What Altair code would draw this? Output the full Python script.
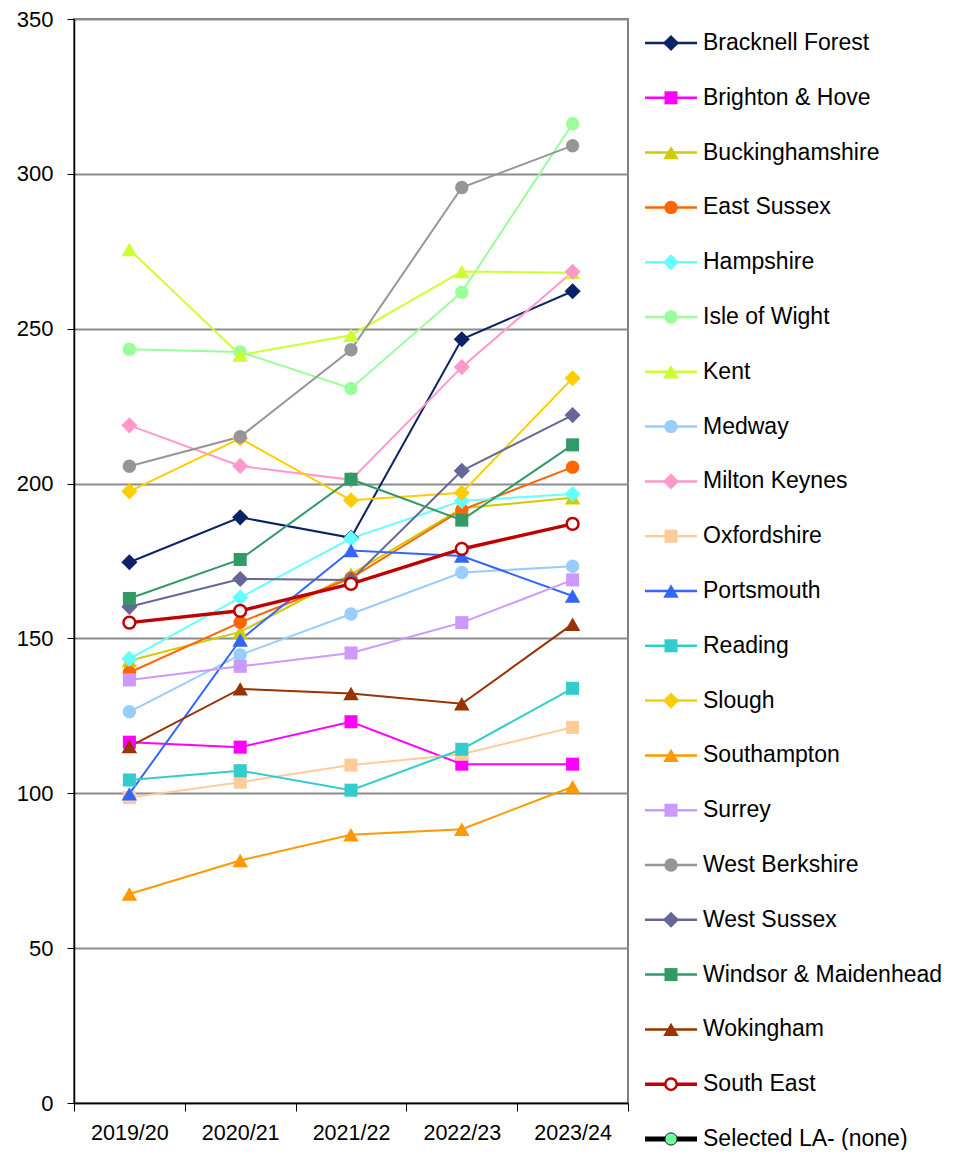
import altair as alt
import pandas as pd

years = ["2019/20", "2020/21", "2021/22", "2022/23", "2023/24"]

names = [
    "Bracknell Forest", "Brighton & Hove", "Buckinghamshire", "East Sussex",
    "Hampshire", "Isle of Wight", "Kent", "Medway", "Milton Keynes",
    "Oxfordshire", "Portsmouth", "Reading", "Slough", "Southampton",
    "Surrey", "West Berkshire", "West Sussex", "Windsor & Maidenhead",
    "Wokingham",
]
colors = [
    "#0B2366", "#FF00FF", "#CCCC00", "#FF6600",
    "#66FFFF", "#99FF99", "#CCFF33", "#99CCFF", "#FF99CC",
    "#FFCC99", "#3366FF", "#33CCCC", "#FFCC00", "#FF9900",
    "#CC99FF", "#969696", "#666699", "#339966",
    "#993300",
]
shapes = [
    "diamond", "square", "triangle-up", "circle",
    "diamond", "circle", "triangle-up", "circle", "diamond",
    "square", "triangle-up", "square", "diamond", "triangle-up",
    "square", "circle", "diamond", "square",
    "triangle-up",
]

bracknell_forest = [174.6, 189.1, 182.5, 246.6, 262.1]
brighton_hove = [116.5, 114.9, 123.1, 109.4, 109.4]
buckinghamshire = [142.8, 152.1, 170.7, 192.0, 195.4]
east_sussex = [139.0, 155.2, 169.5, 191.5, 205.3]
hampshire = [143.4, 163.2, 182.3, 194.4, 196.6]
isle_of_wight = [243.4, 242.5, 230.7, 261.8, 316.2]
kent = [275.6, 241.5, 247.9, 268.5, 268.1]
medway = [126.3, 144.7, 157.9, 171.3, 173.3]
milton_keynes = [218.8, 205.7, 201.2, 237.6, 268.4]
oxfordshire = [98.6, 103.6, 109.1, 112.6, 121.3]
portsmouth = [99.8, 149.5, 178.4, 176.6, 163.7]
reading = [104.3, 107.3, 101.0, 114.2, 133.9]
slough = [197.5, 214.6, 194.6, 197.0, 234.0]
southampton = [67.5, 78.3, 86.6, 88.4, 102.1]
surrey = [136.6, 141.0, 145.3, 155.1, 168.9]
west_berkshire = [205.6, 215.1, 243.2, 295.6, 309.1]
west_sussex = [160.2, 169.2, 168.9, 204.1, 222.1]
windsor_maidenhead = [162.9, 175.5, 201.4, 188.2, 212.5]
wokingham = [115.1, 133.7, 132.2, 128.9, 154.6]
south_east = [155.1, 158.9, 167.6, 178.9, 187.0]

series = [
    bracknell_forest, brighton_hove, buckinghamshire, east_sussex, hampshire,
    isle_of_wight, kent, medway, milton_keynes, oxfordshire, portsmouth,
    reading, slough, southampton, surrey, west_berkshire, west_sussex,
    windsor_maidenhead, wokingham,
]

se_name = "South East"
sel_name = "Selected LA- (none)"
legend_names = names + [se_name, sel_name]

# marker area per symbol type (style)
marker_size = {"diamond": 260, "square": 170, "triangle-up": 240, "circle": 180}

rows = []
for i, (n, vals, s) in enumerate(zip(names, series, shapes)):
    for y, v in zip(years, vals):
        rows.append({"name": n, "year": y, "value": v, "ord": i,
                     "msize": marker_size[s]})
df = pd.DataFrame(rows)
se_df = pd.DataFrame({"name": se_name, "year": years, "value": south_east})

FONT = "Arial, Liberation Sans"

color_scale = alt.Scale(domain=names + [se_name, sel_name],
                        range=colors + ["#C00000", "#000000"])
shape_scale = alt.Scale(domain=names, range=shapes)

x_enc = alt.X(
    "year:N", sort=years, bandPosition=0.5,
    scale=alt.Scale(type="band", paddingInner=0, paddingOuter=0),
    axis=alt.Axis(title=None, labelAngle=0, tickBand="extent",
                  labelFontSize=21.5, labelFont=FONT, labelColor="black",
                  tickColor="black", tickSize=8, domainColor="black",
                  domainWidth=1.5, labelPadding=11, grid=False),
)
y_enc = alt.Y(
    "value:Q",
    scale=alt.Scale(domain=[0, 350], nice=False, zero=True),
    axis=alt.Axis(title=None, values=list(range(0, 351, 50)), labelFontSize=22,
                  labelFont=FONT, labelColor="black", tickColor="black",
                  tickSize=7, labelPadding=14, domainColor="black",
                  domainWidth=1.5, grid=True, gridColor="#8C8C8C",
                  gridWidth=2),
)

base = alt.Chart(df)
lines = base.mark_line(strokeWidth=2).encode(
    x=x_enc, y=y_enc,
    color=alt.Color("name:N", scale=color_scale, legend=None),
    detail="name:N",
)
pts = base.mark_point(filled=True, opacity=1).encode(
    x=x_enc, y=y_enc,
    color=alt.Color("name:N", scale=color_scale, legend=None),
    shape=alt.Shape("name:N", scale=shape_scale, legend=None),
    size=alt.Size("msize:Q", scale=None, legend=None),
    order="ord:Q",
)
se_line = alt.Chart(se_df).mark_line(strokeWidth=3.5, color="#C00000").encode(
    x=x_enc, y=y_enc)
se_pts = alt.Chart(se_df).mark_point(
    shape="circle", filled=True, fill="white", stroke="#C00000",
    strokeWidth=2.5, size=140, opacity=1).encode(x=x_enc, y=y_enc)

main = alt.layer(lines, pts, se_line, se_pts)

# legend panel (drawn to the right of the plot)
leg_rows = []
for n, s in zip(names, shapes):
    leg_rows.append({"name": n, "msize": marker_size[s]})
leg_rows.append({"name": se_name, "msize": 130})
leg_rows.append({"name": sel_name, "msize": 150})
leg_df = pd.DataFrame(leg_rows)

ly = alt.Y("name:N", sort=legend_names, axis=None,
           scale=alt.Scale(type="point", domain=legend_names,
                           range=[24, 1120], padding=0))
leg_base = alt.Chart(leg_df)
leg_rule = leg_base.transform_filter(
    alt.FieldOneOfPredicate(field="name", oneOf=names)
).mark_rule(strokeWidth=2.5).encode(
    x=alt.value(571), x2=alt.value(623), y=ly,
    color=alt.Color("name:N", scale=color_scale, legend=None))
leg_rule_se = leg_base.transform_filter(
    alt.datum.name == se_name
).mark_rule(strokeWidth=3.5, color="#C00000").encode(
    x=alt.value(571), x2=alt.value(623), y=ly)
leg_rule_sel = leg_base.transform_filter(
    alt.datum.name == sel_name
).mark_rule(strokeWidth=5, color="black").encode(
    x=alt.value(571), x2=alt.value(623), y=ly)
leg_pts = leg_base.transform_filter(
    alt.FieldOneOfPredicate(field="name", oneOf=names)
).mark_point(filled=True, opacity=1).encode(
    x=alt.value(597), y=ly,
    color=alt.Color("name:N", scale=color_scale, legend=None),
    shape=alt.Shape("name:N", scale=shape_scale, legend=None),
    size=alt.Size("msize:Q", scale=None, legend=None))
leg_pt_se = leg_base.transform_filter(
    alt.datum.name == se_name
).mark_point(shape="circle", filled=True, fill="white", stroke="#C00000",
             strokeWidth=2.5, size=130, opacity=1).encode(x=alt.value(597), y=ly)
leg_pt_sel = leg_base.transform_filter(
    alt.datum.name == sel_name
).mark_point(shape="circle", filled=True, fill="#66FF99", stroke="#1A1A1A",
             strokeWidth=1, size=150, opacity=1).encode(x=alt.value(597), y=ly)
leg_text = leg_base.mark_text(align="left", baseline="middle", fontSize=23,
                              font=FONT, color="black").encode(
    x=alt.value(629), y=ly, text="name:N")

legend = alt.layer(leg_rule, leg_rule_se, leg_rule_sel, leg_pts, leg_pt_se,
                   leg_pt_sel, leg_text)

chart = alt.layer(main, legend).resolve_scale(y="independent").properties(
    width=554, height=1084,
    autosize=alt.AutoSizeParams(type="none"),
    padding={"left": 66, "top": 11, "right": 317, "bottom": 47},
).configure_view(stroke="#808080", strokeWidth=2)

chart.save("out.html", embed_options={"renderer": "svg", "actions": False})
